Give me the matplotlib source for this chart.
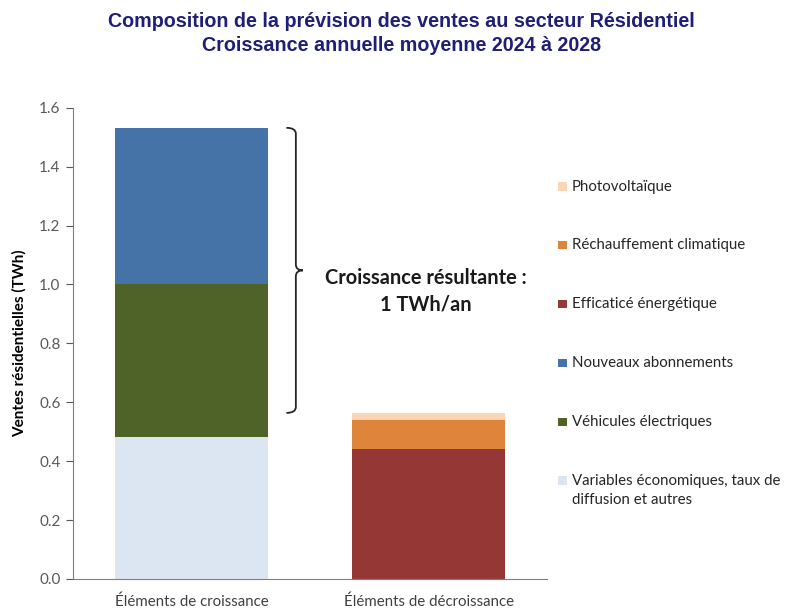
import numpy as np
import matplotlib
matplotlib.use('Agg')
import matplotlib.pyplot as plt
from matplotlib.path import Path
from matplotlib.patches import PathPatch, Rectangle

plt.rcParams['font.family'] = ['Lato', 'DejaVu Sans']

# données (TWh)
categories = ['Éléments de croissance', 'Éléments de décroissance']
series = ['Variables économiques, taux de\ndiffusion et autres', 'Véhicules électriques',
          'Nouveaux abonnements', 'Efficaticé énergétique',
          'Réchauffement climatique', 'Photovoltaïque']
variables_eco = [0.482, 0.0]
vehicules = [0.518, 0.0]
abonnements = [0.532, 0.0]
efficacite = [0.0, 0.442]
rechauffement = [0.0, 0.098]
photovoltaique = [0.0, 0.024]
colors = ['#DCE6F2', '#4F6228', '#4572A7', '#953735', '#DF843B', '#FBD5B5']

values = [variables_eco, vehicules, abonnements, efficacite, rechauffement, photovoltaique]

W, H = 785, 608
fig = plt.figure(figsize=(W / 100, H / 100), dpi=100)
ax = fig.add_axes([0.093, 0.0477, 0.604, 0.775])

x = np.arange(len(categories))
bottom = np.zeros(len(categories))
for vals, col, lab in zip(values, colors, series):
    ax.bar(x, vals, 0.645, bottom=bottom, color=col, label=lab, edgecolor='none')
    bottom += np.array(vals)

ax.set_xlim(-0.5, 1.5)
ax.set_ylim(0, 1.6)
yt = np.arange(0, 1.61, 0.2)
ax.set_yticks(yt)
ax.set_yticklabels([f'{v:.1f}' for v in yt])
ax.set_xticks(x)
ax.set_xticklabels(categories)
ax.tick_params(axis='x', length=0, pad=11, labelsize=10.8, colors='#404040')
ax.tick_params(axis='y', length=5, direction='out', labelsize=11, colors='#595959', pad=4)
for s in ['top', 'right']:
    ax.spines[s].set_visible(False)
for s in ['left', 'bottom']:
    ax.spines[s].set_color('#7f7f7f')
ax.set_ylabel('Ventes résidentielles (TWh)', fontsize=11, fontweight='bold', labelpad=9)

# accolade : de la décroissance totale à la croissance totale
top = bottom[0]
bot = bottom[1]
mid = (top + bot) / 2
xl, xm, xt = 0.4, 0.44, 0.47
r = 0.02
verts = [(xl, top), (xm, top), (xm, top - r),
         (xm, mid + r), (xm, mid), (xt, mid),
         (xm, mid), (xm, mid - r),
         (xm, bot + r), (xm, bot), (xl, bot)]
codes = [Path.MOVETO, Path.CURVE3, Path.CURVE3,
         Path.LINETO, Path.CURVE3, Path.CURVE3,
         Path.CURVE3, Path.CURVE3,
         Path.LINETO, Path.CURVE3, Path.CURVE3]
ax.add_patch(PathPatch(Path(verts, codes), fill=False, lw=1.3, edgecolor='#262626'))
ax.text(0.99, mid - 0.07, 'Croissance résultante :\n1 TWh/an', ha='center', va='center',
        fontsize=14.4, fontweight='bold', color='#1a1a1a', linespacing=1.4)

# légende (à droite, carré aligné sur la première ligne)
y0, step = 186.5, 58.9
for i, (col, lab) in enumerate(zip(colors[::-1], series[::-1])):
    yp = 1 - (y0 + i * step) / H
    fig.add_artist(Rectangle((558 / W, yp - 4 / H), 8.5 / W, 8.5 / H,
                             transform=fig.transFigure, facecolor=col, edgecolor='none'))
    fig.text(572 / W, yp + 7 / H, lab, ha='left', va='top', fontsize=10.8,
             color='#262626', linespacing=1.45)

fig.text(0.511, 1 - 33.5 / H,
         'Composition de la prévision des ventes au secteur Résidentiel\n'
         'Croissance annuelle moyenne 2024 à 2028',
         ha='center', va='center', fontsize=14.2, fontweight='bold', color='#1F1F78',
         family='Liberation Sans', linespacing=1.37)

fig.savefig('out.png', dpi=100)
